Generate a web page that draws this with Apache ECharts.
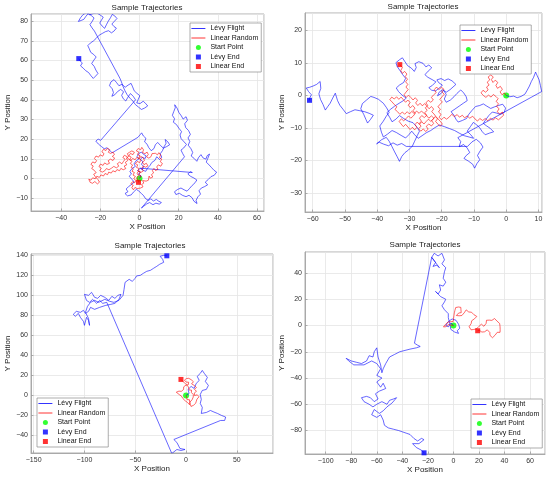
<!DOCTYPE html>
<html>
<head>
<meta charset="utf-8">
<script src="https://cdn.jsdelivr.net/npm/echarts@6/dist/echarts.min.js"></script>
<style>
  html, body { margin: 0; padding: 0; background: #fff; }
  #chart { width: 550px; height: 480px; }
</style>
</head>
<body>
<div id="chart"></div>
<script>
// 起点 (four panels share it)
const startPoint = [0, 0];

// 左上
const levy1 = [[0,0],[0.8,1.3],[-0.6,2.1],[0.4,3.2],[-1,4],[0.3,5.1],[1.6,4.6],[2.1,6.1],[1,7.2],[1.8,8.5],[0.5,9.6],[1.4,10.8],[2.9,10.1],[3.4,11.5],[2,12.3],[1,13.4],[-0.4,12.6],[-1.2,11.1],[-0.3,9.9],[-1.7,9],[-2.8,7.4],[-2.1,6.1],[-3.6,5.2],[-4.9,3.6],[-4.1,2.2],[-5.3,1.1],[-3.8,-0.5],[-2.7,-1.9],[-4.1,-3.1],[-5.6,-4.2],[-6.8,-5.4],[-5.9,-6.8],[-7.4,-7.7],[-6.1,-8.9],[-4.2,-8.4],[-3.1,-7],[-1.6,-5.6],[-0.4,-6.4],[0.9,-7.6],[2.2,-8.9],[3.1,-10.3],[4.6,-11.2],[5.8,-10.4],[7.1,-11.5],[8.6,-10.7],[9.8,-11.6],[11.2,-12.3],[10.1,-13.1],[8.4,-12.6],[6.9,-13.4],[5.2,-12.3],[3.7,-13],[2.1,-14.2],[1,-15.1],[0,-16],
  [23,11],[22.1,12.6],[21.2,14.4],[22.6,15.5],[24,17.3],[22.8,18.6],[21.3,20.2],[20.7,22.1],[21.5,23.8],[20.1,25.6],[18.9,27.4],[17.3,28.6],[17.9,30.4],[16.8,32.1],[17.5,34],[18.3,36],[18,37.5],[19.2,35.8],[20.1,33.6],[21.4,31.8],[22.3,30.2],[23.8,31.4],[24.5,29.6],[23.1,27.8],[23.6,25.9],[25.1,24.3],[26,22.4],[24.8,20.6],[25.7,18.8],[24.9,16.9],[26.3,15.1],[27.2,13.2],[26.4,11.4],[28,10.1],[29.3,8.7],[30.1,10.5],[31.4,12.1],[32.5,10.4],[33.9,9.8],[34.6,11.6],[35.8,12.4],[34.9,10.2],[34.1,8.3],[35.6,6.8],[36.9,5.4],[38.1,4.1],[39.4,3.2],[38.2,1.6],[36.5,0.9],[35.1,-0.6],[33.6,-1.9],[34.8,-3.3],[33.2,-4.2],[31.6,-4.9],[30.4,-6.3],[31.2,-8],[29.8,-9.4],[28.9,-11.2],[29.4,-12.8],[27.8,-11.6],[26.9,-9.9],[25.3,-8.6],[23.8,-9.3],[22.1,-8.7],[20.4,-7.6],[18.6,-8.2],[17.9,-6.8],[19.5,-5.6],[21.2,-4.9],[22.8,-5.8],[24.3,-6.5],[25.6,-5.1],[26.9,-3.6],[28.4,-2.2],[29.3,-0.8],[27.8,0.2],[26.2,1],[24.7,2.2],[25.9,3.4],[27,3],
  [0.5,5.2],[1.9,4.1],[3.2,3.6],[4.1,5.2],[5.4,6.6],[6.3,8.1],[7.9,9.2],[8.8,11],[10.3,9.6],[11.4,10.8],[10.6,12.5],[11.8,14.2],[12.5,16],[13.6,17.9],[13.1,19.8],[14.5,18.6],[15.4,17.1],[13.9,16.2],[12.2,15.4],[10.7,16.8],[9.3,18.3],[8.1,17.1],[7.4,15.2],[6,14.1],[4.7,15.7],[3.9,17.4],[2.6,18.6],[3.3,20.4],[2,21.6],[1.1,23.2],[0.2,22.1],[-0.8,20.9],
  [-14,13],[-15.2,14.3],[-16.5,15.6],[-18,15.1],[-19.4,16.2],[-21,17.5],[-22.3,19],[-21.1,20],[-19.8,19.4],
  [-2,40],[-3.2,41.8],[-4.6,43.2],[-5.8,41.5],[-7,39.4],[-8.3,40.6],[-9.1,42.3],[-8.1,44.1],[-9.6,45.3],[-11.2,44.2],[-12.6,42.6],[-14.1,41.8],[-13.3,43.7],[-13.9,45.6],[-15.3,47.2],[-14.6,49.1],[-13,50.3],[-11.8,48.9],[-10.5,47.2],[-8.9,47.9],[-7.3,46.4],[-5.8,47.5],[-4.3,48.4],[-3.5,46.6],[-2.7,44.6],[-1.3,43.3],[0.2,42.1],[-0.6,40.3],[-1.4,38.4],[0.3,38.1],[1.9,39.3],[3.1,38.2],[4.2,36.9],[2.6,35.8],[1,35.1],[-0.5,36.3],[-2.1,37.6],[-3.4,39.4],[-4.8,40.8],[-6.3,42.6],[-7.4,44.6],[-8.4,46.8],[-9.2,49.1],[-10,51],
  [-23,75],[-24.2,76.6],[-25.3,78.3],[-24.1,80],[-23.2,81.7],[-24.6,82.9],[-26.1,84],[-27.3,82.6],[-28.4,81],[-29.8,80.4],[-31.2,79.9],[-30.1,81.8],[-28.8,83.4],[-27.2,84.3],[-25.4,83.3],[-23.6,83.9],[-21.7,84.2],[-20.1,83.2],[-18.5,82.1],[-19.4,80.6],[-20.3,79.1],[-19.1,77.6],[-17.8,76.4],[-16.9,78.2],[-15.9,80.1],[-14.8,81.8],[-13.9,83.5],[-12.6,82.7],[-11.5,81.4],[-12.8,80],[-14.1,78.6],[-13,77.3],[-11.8,76.5],[-12.9,75.1],[-14.3,74.1],[-15.8,75.2],[-17.4,74.7],[-19,73.8],[-20.6,72.9],[-22.1,71.3],[-23.5,70],[-25.1,68.9],[-26.4,67.6],[-25.6,65.9],[-24.9,64.2],[-23.4,63.1],[-22.1,61.8],[-23.3,60.2],[-24.4,58.5],[-23.1,57],[-22.3,55.2],[-21.2,53.4],[-22.4,52.1],[-23.6,50.9],[-24.8,52.3],[-26,53.9],[-27.4,54.8],[-28.7,56.1],[-30.1,57.3],[-29.2,58.8],[-30.4,59.9],[-31,61]];
const walk1 = [[0,0],[0.8,1.2],[-0.3,2],[0.5,3.1],[-0.8,3.8],[-0.2,5],[-1.5,5.6],[-0.9,6.9],[-2.1,7.5],[-1.2,8.6],[0.1,8.1],[0.8,9.4],[-0.4,10.3],[0.3,11.5],[-1,12.2],[-0.3,13.4],[-1.6,14],[-0.7,15.2],[0.6,14.6],[1.2,15.8],[2.1,14.5],[1.5,13.2],[2.8,12.6],[3.9,13.4],[4.5,12.1],[3.6,11],[4.8,10.3],[5.9,11.1],[6.4,12.6],[7.3,11.6],[8.1,12.8],[9.2,12],[9.9,13.1],[10.8,11.9],[10.2,10.6],[11.4,9.8],[10.6,8.5],[11.7,7.6],[10.9,6.2],[9.6,6.9],[8.8,5.8],[9.5,4.6],[8.2,4],[7.4,5.1],[6.6,4],[7.2,2.8],[6.1,1.9],[6.8,0.7],[5.6,0.1],[4.9,1.2],[4,0.3],[4.6,-0.9],[3.4,-1.4],[2.7,-0.4],[1.6,-1.1],[2.2,-2.4],[1.1,-3.1],[1.8,-4.3],[0.6,-4.9],[-0.4,-4],[-1.2,-5.2],[-2.3,-4.6],[-3.1,-5.8],[-3.9,-4.7],[-3.2,-3.5],[-4.4,-2.8],[-3.6,-1.7],[-2.4,-2.2],[-1.8,-1],[-2.9,-0.2],[-2.1,1],[-3.3,1.7],[-2.6,3],[-3.8,3.6],[-3.1,4.9],[-4.3,5.6],[-3.5,6.8],[-4.7,7.6],[-3.8,8.7],[-5,9.6],[-4.2,10.8],[-5.4,11.5],[-4.6,12.7],[-3.3,12.1],[-2.6,13.3],[-3.9,14],[-5.1,13.3],[-6.2,12.6],
  [-5.5,11.2],[-6.7,10.4],[-6,9.1],[-7.2,8.2],[-6.5,6.9],[-7.8,6.3],[-7,5],[-8.3,4.4],[-9.5,5.1],[-10.2,3.9],[-11.5,4.5],[-12.3,3.3],[-13.6,3.9],[-14.4,2.7],[-15.7,3.2],[-16.3,1.9],[-17.6,2.5],[-18.4,1.2],[-19.7,1.8],[-20.5,0.5],[-21.8,1.1],[-22.6,-0.2],[-23.9,0.3],[-24.8,-0.9],[-25.9,-0.4],[-25.2,-2],[-24,-2.5],[-22.8,-1.6],[-21.5,-2.8],[-20.4,-1.9],
  [-21.2,-0.6],[-22.5,0.8],[-23.4,2.1],[-22.1,2.9],[-23.2,4.2],[-24.4,5],[-23.6,6.3],[-24.8,7.1],[-23.9,8.4],[-22.7,7.8],[-21.9,9],[-23,10.1],[-22.2,11.4],[-20.9,10.8],[-20.1,12],[-18.8,11.3],[-18.1,12.6],[-19.2,13.5],[-18.4,14.8],[-17.1,14.2],[-16.4,15.3],[-15.2,14.6],[-15.9,13.3],[-14.7,12.7],[-13.5,13.4],[-12.8,12.1],[-13.9,11.2],[-12.7,10.4],[-13.5,9.1],[-14.8,9.8],[-16,9],[-15.3,7.7],[-16.6,7.1],[-17.8,7.9],[-18.6,6.6],[-19.9,7.3],[-20.7,6],[-19.5,5.2],[-20.3,3.9],[-19,3.2],[-17.7,3.9],[-16.9,5],[-15.6,4.4],[-14.3,5.2],[-13.1,6.1],[-11.8,5.4],[-10.6,6.2],[-11.3,7.5],[-10.1,8.3],[-9,7.4],[-8.2,8.6],[-7.3,9.8],[-8.5,10.6],[-7.7,11.8],[-6.4,11.1],
  [-5.6,9.8],[-4.3,9.1],[-3.5,10.2],[-2.2,9.5],[-1.4,10.7],[-0.1,10],[0.7,11.2],[1.9,10.4],[2.6,9.1],[1.5,8.3],[2.3,7],[3.5,7.7],[4.3,6.4],[3.1,5.7],[1.9,6.3],[1.2,5],[2,3.8],[0.8,3.1],[-0.4,3.8],[-1.2,2.6],[-0.5,1.4],[-1.4,0.2],[-0.6,-1],[-0.5,-2]];
const levyEnd1 = [-31, 61];
const walkEnd1 = [-0.5, -2];

// 右上
const levy2 = [[0,0],[1.1,-0.4],[2.3,-0.2],[3.4,-0.7],[4.6,-0.3],[5.8,0.4],[6.5,1.6],[7.2,2.9],[7.8,4.3],[8.5,5.6],[9.1,7.2],[9.6,6.1],[10.2,4.8],[10.6,3.1],[11,1.2],
  [-15,-13],[-14.1,-14.2],[-14.6,-15.8],[-13.2,-15.1],[-12.1,-16.2],[-11.3,-17.6],[-12.4,-18.5],[-13.1,-19.4],[-11.6,-20.3],[-10.4,-21.2],[-9.8,-22.4],[-9.1,-21],[-8.2,-19.8],[-8.9,-18.5],[-8.1,-17.1],[-7.2,-15.9],[-8,-14.6],[-9.3,-13.5],[-10.6,-14.3],[-12,-15.7],
  [-31,-15.7],[-32.4,-14.8],[-33.8,-15.3],[-35.1,-14.6],[-36.5,-15.5],[-38,-15],[-39.4,-14.4],[-40.2,-14.9],[-38.6,-13.6],[-37.2,-12.9],[-36.3,-14.1],[-35.4,-15.8],[-34.6,-17.4],[-33.8,-18.9],[-33.1,-20.3],[-32.4,-18.8],[-31.4,-17.6],[-30.3,-16.8],[-29.1,-15.6],[-28.4,-14.1],[-27.6,-12.4],[-26.9,-11],[-27.8,-9.6],[-28.9,-8.4],[-30.4,-7.9],[-31.8,-7.1],[-33.1,-6.2],[-34.2,-7.3],[-35.4,-8.1],[-36.1,-6.8],[-37,-5.3],[-35.8,-4.2],[-34.6,-3.3],[-33.2,-2.4],[-31.9,-1.6],[-31,-0.8],[-32.3,0.1],[-33.4,1.2],[-34.1,2.3],[-33.1,3.2],[-31.8,4],[-31.2,5.3],[-32.1,6.4],[-32.9,7.6],[-33.8,8.9],[-34.2,10.1],[-33.1,11],[-32.2,11.6],[-31.4,10.4],[-30.6,9.2],[-29.4,8.4],[-28.5,7.4],[-27.9,8.6],[-28.3,9.8],[-27.1,10.4],[-25.8,9.9],[-24.9,8.8],[-24,9.4],[-23.1,8.5],[-24.2,7.5],[-25.2,6.4],[-24.3,5.6],[-23,4.9],[-21.8,4.2],[-22.9,3.1],[-24,2.4],[-23.1,1.6],[-21.9,1.4],[-20.7,2.3],[-19.8,3.2],[-20.9,3.9],[-21.5,4.8],[-20.2,5.2],[-19.1,4.6],[-18,5.1],[-16.8,4.5],[-15.6,3.4],[-16.5,2.6],[-17.4,1.8],[-18.6,1],[-19.7,1.8],[-20.8,1],[-21.3,-0.1],[-20.2,0.6],[-19.4,1.6],[-18.6,0.3],[-19.2,-1.1],[-18.6,-2.1],[-17.3,-1.4],[-16.2,-0.4],[-15.3,0.6],[-14.1,1.7],[-13.2,0.8],[-12.4,-0.4],[-12.1,-1.6],[-13.3,-2.4],[-14.6,-3.3],[-15.9,-4.2],[-17.1,-5],[-16.2,-6.1],[-15.6,-7.3],[-14.9,-8.2],[-13.6,-7.7],[-12.3,-7.1],[-11.6,-5.8],[-10.6,-4.6],[-9.5,-3.4],[-8.2,-3.1],[-7.1,-2.6],[-6,-3.3],[-4.8,-4],[-3.6,-3.5],[-2.4,-3.1],[-1.1,-2.7],[-0.2,-3.9],[-0.6,-5.2],[-1.8,-5.8],[-3.1,-5.4],[-4.3,-5.1],[-5.4,-6.2],[-6.3,-7.4],[-7.1,-8.6],[-6.2,-9.3],[-5,-10.1],[-3.9,-11.2],[-5.2,-11.6],[-6.5,-12.1],[-7.4,-11.2],[-8.2,-10],[-9.1,-9.1],[-10.2,-8.3],[-11.1,-9.6],[-12.1,-11],[-11,-12.1],[-10.1,-13.2],[-11.5,-12.8],[-13,-12.4],[-14.4,-11.7],[-16,-10.8],[-17.6,-10.2],[-19.2,-9.6],[-20.7,-9.1],[-22.1,-9.9],[-23.4,-10.8],[-24.8,-11.5],[-26.1,-12.4],[-27.3,-13.2],[-28.4,-12.1],[-29.3,-11],[-30.2,-12.1],[-31.2,-13.1],[-32.6,-12.3],[-34.1,-11.4],[-35.4,-10.8],[-36.8,-11.9],[-38.1,-12.8],[-38.7,-11.3],[-39.2,-9.4],[-38.1,-7.9],[-37.2,-6.4],[-36.3,-5.2],[-37.1,-3.8],[-38.1,-2.4],[-39.6,-1.2],[-41,-0.6],[-42,-0.3],[-43.3,-1.4],[-44.6,-2.5],[-45.1,-4.1],[-44.2,-5.8],[-43.5,-7.4],[-43,-8.5],[-42.1,-7.4],[-41.2,-6.1],[-42.5,-5.5],[-43.9,-5],[-45.4,-4.7],[-46.9,-4.4],[-48.3,-5],[-49.6,-5.6],[-50.5,-4.4],[-51.6,-3],[-52.3,-1.6],[-53,0.7],[-53.8,-0.8],[-54.6,-2.4],[-55.4,-3.5],[-56.1,-4.5],[-56.8,-2.8],[-57.6,-1.2],[-58.1,0.5],[-57.5,2.2],[-57.7,4.3],[-58.8,3.4],[-59.9,2.9],[-61,2.5],[-62,2.3],[-61.3,1.2],[-60.4,0.2],[-60.9,-0.7],[-61,-1.5]];
const walk2 = [[0,0],[-0.6,0.8],[-1.3,0.2],[-1.9,1.1],[-1.2,1.9],[-1.8,2.8],[-2.7,2.2],[-3.2,3.1],[-2.6,4],[-3.4,4.7],[-4.1,4],[-4.6,4.9],[-4,5.7],[-4.8,6.3],[-5.6,5.7],[-5.1,4.8],[-5.9,4.1],[-5.3,3.2],[-6.1,2.6],[-5.6,1.7],[-6.4,1],[-7.2,1.6],[-7.8,0.8],[-7.1,0],[-6.3,-0.6],[-5.5,0.1],[-4.7,-0.5],[-4,0.3],[-3.2,-0.3],[-2.5,-1],[-3.1,-1.8],[-2.4,-2.6],[-3,-3.4],[-2.2,-4.1],[-2.8,-5],[-2,-5.7],[-1.2,-5.1],[-0.8,-6.1],[-1.6,-6.8],[-2.4,-7.5],[-3.3,-6.9],[-4.1,-7.6],[-4.9,-7],[-5.7,-7.8],[-6.5,-7.1],[-7.3,-7.7],[-8.2,-7.1],[-8.9,-7.9],[-9.7,-7.2],[-10.4,-6.4],[-11.3,-7],[-12.1,-6.3],[-12.9,-6.9],[-13.6,-6.1],[-14.5,-6.7],[-15.2,-5.9],[-16.1,-6.5],[-16.9,-5.8],[-17.6,-6.6],[-18.5,-7.3],[-19.3,-6.7],[-20.1,-7.5],[-20.8,-6.7],[-20.2,-5.8],[-21,-5.1],[-20.4,-4.2],[-21.2,-3.5],[-20.5,-2.7],[-19.8,-2],[-20.6,-1.2],[-19.9,-0.4],[-19.2,0.4],[-20,1.1],[-19.3,1.9],[-20.1,2.5],[-20.9,1.8],[-21.6,2.6],[-22.3,1.8],[-21.7,0.9],[-22.5,0.2],[-23.2,-0.6],[-22.6,-1.4],[-23.4,-2.1],[-24.2,-1.5],[-24.9,-2.3],[-24.3,-3.1],[-25.1,-3.8],[-24.5,-4.6],[-25.3,-5.3],[-24.6,-6.1],[-25.4,-6.8],[-26.2,-6.2],[-26.9,-7],[-26.3,-7.9],[-27,-8.7],[-26.4,-9.5],[-27.2,-10.2],[-26.5,-11],[-25.7,-10.3],[-25,-11.1],[-24.2,-10.4],[-24.8,-9.5],[-24,-8.8],[-23.2,-9.4],[-22.5,-8.6],[-23.1,-7.8],[-22.4,-7],[-23.2,-6.3],[-24,-7],[-24.7,-6.2],[-25.5,-5.5],[-26.3,-4.8],[-27,-5.5],[-27.8,-4.8],[-28.5,-5.6],[-29.3,-4.9],[-30,-5.7],[-30.7,-5],[-31.5,-5.8],[-32.2,-5.1],[-33,-5.8],[-33.7,-5],[-34.5,-4.3],[-33.9,-3.5],[-34.7,-2.8],[-35.4,-2],[-36.1,-1.3],[-35.5,-0.5],[-34.7,-1.1],[-34,-0.4],[-33.3,-1.2],[-32.6,-0.5],[-31.9,-1.3],[-31.2,-2.1],[-30.5,-1.4],[-29.8,-2.2],[-30.4,-3],[-29.7,-3.8],[-29,-3.1],[-28.3,-3.9],[-28.9,-4.7],[-28.2,-5.5],[-28.8,-6.3],[-29.6,-7],[-30.3,-6.3],[-31,-7.1],[-31.8,-7.8],[-32.5,-7.2],[-33.2,-8],[-32.6,-8.8],[-31.9,-9.6],[-31.2,-8.9],[-30.5,-9.7],[-29.8,-10.5],[-29.1,-9.8],[-28.4,-10.6],[-27.7,-9.8],[-28.3,-9],[-27.6,-8.2],[-26.9,-8.9],[-26.2,-8.1],[-25.5,-8.8],[-24.8,-8],[-24.1,-7.3],[-23.4,-8],[-22.7,-7.3],[-22,-6.5],[-21.3,-7.2],[-21.9,-8],[-21.2,-8.8],[-20.5,-9.5],[-19.8,-8.8],[-20.4,-8],
  [-21.1,-7.3],[-21.8,-6.5],[-22.4,-5.7],[-23.1,-5],[-22.5,-4.2],[-23.2,-3.4],[-23.9,-4.1],[-24.6,-3.3],[-25.3,-2.5],[-26,-3.2],[-26.7,-2.4],[-27.4,-3.1],[-28.1,-2.3],[-27.5,-1.5],[-28.2,-0.7],[-28.9,-1.4],[-29.6,-0.6],[-30.3,0.1],[-31,-0.6],[-31.7,0.2],[-31.1,1],[-30.4,1.8],[-31.1,2.6],[-30.5,3.4],[-31.2,4.2],[-30.6,5],[-31.3,5.8],[-30.8,6.6],[-31.5,7.4],[-32.2,6.8],[-32.7,7.7],[-32.2,8.6],[-33,9.5]];
const levyEnd2 = [-61, -1.5];
const walkEnd2 = [-33, 9.5];

// 左下
const levy3 = [[0,0],[3,2],[2,6],[5,9],[8,7],[10,12],[13,15],[11,19],[14,22],[16,25],[18,22],[21,18],[19,14],[22,10],[20,6],[16,5],[14,1],[15,-4],[14,-8],[16,-12],[15,-18],[20,-17],[24,-15],[27.5,-16.6],[31,-18],[35,-20],[39,-21.6],[38,-25],[37.4,-26.5],[34,-25],
  [-12,-44],[-9,-47],[-6,-53],[-1,-54],[-5,-55],[-9,-54],[-14,-58],
  [-78,93],[-82,92],[-85,95],[-88,92],[-92,96],[-95,93],[-98,95],[-100,101],[-96,100],[-93,103],[-90,98],[-87,97],[-84,100],[-80,98],[-76,95],[-73,99],[-70,97],[-67,100],[-64,101],[-66,96],[-70,92],[-74,91],[-79,90],[-85,88],[-90,86],[-94,88],[-96,84],[-99,82],[-101,85],[-104,83],[-108,84],[-111,81],[-109,79],[-106,82],[-104,78],[-101,74],[-100,70],[-98,78],[-96,75],[-95,70],[-96,77],[-99,83],[-97,89],[-94,93],[-90,95],[-86,93],[-80,96],[-75,94],[-71,93],[-66,95],[-62,100],[-61,106],[-60,113],[-56,116],[-53,114],[-50,117],[-48.7,119.4],[-45,120],[-42,122],[-38.7,124],[-35,125],[-32,127],[-28.8,129],[-26,131],[-22,133],[-20.5,134],[-23,136],[-25.5,139],[-22,140],[-18.9,139.5]];
const walk3 = [[0,0],[1.2,-0.8],[0.6,-2],[1.8,-2.9],[1.1,-4.2],[2.3,-5],[3.4,-4.3],[4.1,-5.5],[3.6,-6.8],[4.8,-7.6],[4.2,-8.9],[5.4,-9.7],[4.9,-11],[5.8,-12],[6.7,-11],[7.4,-9.8],[8.3,-8.6],[9.5,-7.8],[8.9,-6.5],[10.1,-5.8],[9.6,-4.5],[10.8,-3.6],[11.9,-2.7],[12.8,-1.4],[12.2,-0.2],[11.1,0.6],[10.2,-0.3],[9.3,0.8],[8.4,-0.1],[9,1.3],[8.1,2.4],[9.2,3.3],[10.3,4.2],[9.4,5.3],[8.3,6],[9.1,7.2],[10.2,8],[9.4,9.3],[8.1,10],[7.1,9.1],[6.3,10.3],[5.5,11.6],[6.6,12.4],[7.3,13.7],[6.2,14.6],[5.1,15.7],[3.9,16.5],[2.7,17.1],[1.6,16.2],[0.4,16.9],[-0.8,16.5],[-1.6,15.3],[-0.9,14.1],[0.2,13.3],[1.4,14.1],[2.6,13.2],[3.1,11.8],[2.2,10.7],[1.1,9.6],[0,10.4],[-1.2,9.8],[-2.3,8.6],[-3.1,7.3],[-2.4,6],[-3.5,5],[-4.6,4.1],[-5.8,3.6],[-7,4.3],[-8.3,3.7],[-9.6,3.2],[-10.4,2.6],[-9.2,2],[-7.9,1.6],[-6.7,0.9],[-5.4,0.3],[-4.5,-0.7],[-3.7,-1.9],[-3,-3.2],[-1.8,-4],[-0.9,-5.3],[0.3,-6.1],[1.4,-7],[2.6,-8.2],[3.5,-9.3],[4.4,-8],[3.9,-6.6],[4.8,-5.3],[5.9,-4.4],[6.4,-3],[7.1,-1.6],[6.3,-0.4],[7.2,0.8],[6.1,1.7],[5.3,2.9],[6.1,4],[5.4,5.3],[4.2,6.1],[3,5.4],[2.1,4.2],[2.6,5.8],[3.3,7.2],[2.4,8.4],[1.2,9.1],[0.6,10.6],[-0.4,11.8],[-1.5,12.6],[-2.4,13.8],[-3.6,14.4],[-4.4,15.3],[-5,16]];
const levyEnd3 = [-18.9, 139.5];
const walkEnd3 = [-5, 16];

// 右下
const levy4 = [[0,0],[-2,2],[-4,-1],[-6,0],[-4,3],[-1,5],[2,4],[4,1],[5,-2],[3,-4],[4,-6],[1,-5],[-2,-3],[-3,2],[-4,6],[-4,9],[-7,12],[-9,15],[-7,18],[-6,20],[-10,22],[-14,26],[-12,24],[-10,27],[-11,31],[-8,30],[-6,33],[-8,36],[-7,41],[-6,44],[-9,47],[-7,50],[-9,55],[-12,53],[-15,55],[-17,52],[-14,48],[-16,45],[-13,46],[-11,44],[-17,52],
  [-30.5,-13.5],[-28,-15],[-26,-16],[-29,-17],[-34,-18],[-42,-20],[-46,-22],[-50,-24],[-53,-29],[-55,-33],[-56,-36],[-57,-30],[-59,-24],[-60,-17],[-62,-20],[-63,-24],[-66,-23],[-68,-27],[-72,-29],[-76,-28],[-80,-27],[-84,-25],[-82,-27],[-78,-30],[-70,-30],[-64,-27],[-60,-29],[-57,-33],[-60,-38],[-56,-40],[-60,-43],[-57,-47],[-55,-44],[-53,-48],[-58,-50],[-61,-52],[-59,-56],[-62,-58],[-65,-55],[-68,-54],[-72,-55],[-70,-58],[-66,-60],[-63,-62],[-60,-60],[-56,-58],[-52,-60],[-50,-57],[-47,-56],[-44.5,-55],[-48,-59],[-52,-62],[-55,-65],[-58,-67],[-62,-64],[-64,-68],[-60,-70],[-57,-68],[-55,-72],[-54,-76],[-51,-78],[-47,-79],[-43,-80],[-40,-81],[-37,-82],[-34,-83],[-31,-86],[-28,-88],[-25,-86],[-23,-87],[-27,-90],[-32,-90],[-29,-93],[-25,-95],[-23,-97]];
const walk4 = [[0,0],[-1,0.8],[-2.1,0.3],[-2.9,1.2],[-4,0.7],[-4.8,-0.3],[-5.9,-0.9],[-6.9,-0.4],[-7.8,-1.1],[-7.1,0.1],[-6.2,0.9],[-5.1,1.6],[-4.2,2.6],[-3.1,2.1],[-2,2.9],[-1.1,3.8],[-0.2,3.1],[0.6,4.2],[0.1,5.4],[1,6.3],[0.4,7.5],[1.3,8.4],[0.7,9.6],[1.8,10.4],[1.2,11.6],[2.3,12.5],[1.8,13.7],[2.9,14.6],[4,14.1],[5.1,14.9],[5.8,13.8],[4.9,12.8],[5.9,11.9],[5.1,10.8],[6.1,9.8],[5.2,8.9],[4.1,9.5],[3.1,8.7],[2.3,7.6],[3.4,6.9],[4.5,7.4],[5.6,6.8],[6.6,7.6],[7.5,8.7],[8.4,9.6],[9.1,10.8],[10,11.9],[11.1,11.3],[12,10.3],[13.1,9.5],[14.2,10.1],[15.3,9.4],[16.1,8.2],[17.2,7.6],[18.3,6.9],[17.6,5.7],[16.5,5.1],[15.4,4.3],[14.3,3.6],[13.2,2.7],[13.9,1.5],[13.1,0.3],[12.3,-0.9],[12.9,-2.1],[13.8,-3.3],[14.9,-3.9],[15.9,-3],[16.8,-2],[17.9,-2.7],[18.9,-1.8],[19.8,-0.8],[20.9,0.1],[21.9,1],[22.8,0.1],[23.9,-0.6],[24.8,0.4],[25.6,1.6],[25.1,2.8],[25.9,4],[27,4.8],[28.1,4.1],[29.1,3.1],[30.1,3.9],[31.2,4.6],[32.2,5.3],[33.3,4.5],[34.1,3.4],[35.1,2.4],[36.2,1.5],[35.6,0.3],[36.5,-0.8],[37.3,-1.9],[36.6,-3.1],[37.4,-4.2],[36.5,-5.2],[35.4,-4.6],[34.3,-5.2],[33.5,-6.3],[32.6,-7.4],[31.7,-8.5],[30.6,-9.3],[29.5,-8.6],[28.6,-7.5],[29.4,-6.4],[28.5,-5.3],[27.5,-4.2],[26.5,-3.3],[25.4,-3.9],[24.4,-4.8],[23.4,-5.7],[22.3,-5],[21.2,-4.3],[20.1,-3.5],[19,-4]];
const levyEnd4 = [-23, -97];
const walkEnd4 = [19, -4];

const legendNames = ['Lévy Flight', 'Linear Random', 'Start Point', 'Lévy End', 'Linear End'];

// 每个子图的位置和坐标范围 (axis equal, like the original)
const panels = [
  { grid: { left: 31, top: 14, width: 233, height: 197 }, x: [-55.4, 63.6], y: [-16.6, 83.7], xi: 20, yi: 10,
    title: { left: 147, top: 4 }, legend: { left: 190, top: 23 }, xGap: 10, yGap: 15,
    levy: levy1, walk: walk1, levyEnd: levyEnd1, walkEnd: walkEnd1 },
  { grid: { left: 305, top: 13, width: 237, height: 199 }, x: [-62.4, 11.1], y: [-35.9, 25.4], xi: 10, yi: 10,
    title: { left: 423, top: 2.5 }, legend: { left: 460, top: 25 }, xGap: 8, yGap: 15,
    levy: levy2, walk: walk2, levyEnd: levyEnd2, walkEnd: walkEnd2 },
  { grid: { left: 31, top: 254, width: 242, height: 199 }, x: [-152.6, 85.6], y: [-57.5, 141.3], xi: 50, yi: 20,
    title: { left: 150, top: 242 }, legend: { left: 37, top: 398 }, xGap: 10, yGap: 15,
    levy: levy3, walk: walk3, levyEnd: levyEnd3, walkEnd: walkEnd3 },
  { grid: { left: 305, top: 252, width: 240, height: 202 }, x: [-116.2, 71.7], y: [-97.9, 56], xi: 20, yi: 20,
    title: { left: 425, top: 241 }, legend: { left: 471, top: 399 }, xGap: 11, yGap: 16,
    levy: levy4, walk: walk4, levyEnd: levyEnd4, walkEnd: walkEnd4 }
];

// 图例: 线条只画线, 端点画成小方块
const squareIcon = 'path://M0,0H10V10H0Z';
const lineLegendItem = (name) => ({ name: name, itemStyle: { color: 'rgba(0,0,0,0)', borderWidth: 0 }, lineStyle: { width: 0.8 } });
const legendData = [
  lineLegendItem(legendNames[0]),
  lineLegendItem(legendNames[1]),
  { name: legendNames[2], icon: 'circle' },
  { name: legendNames[3], icon: squareIcon },
  { name: legendNames[4], icon: squareIcon }
];

const minus = (v) => (v < 0 ? '\u2212' + Math.abs(v) : String(v));
const axisColor = '#9a9a9a';
const labelStyle = { fontSize: 7, color: '#333', fontFamily: 'Liberation Sans', formatter: minus, showMinLabel: false, showMaxLabel: false };
const nameStyle = { fontSize: 8, color: '#222', fontFamily: 'Liberation Sans' };

let chart = echarts.init(document.getElementById('chart'), null, { renderer: 'canvas' });
let option = {
  animation: false,
  backgroundColor: '#fff',
  title: panels.map(p => ({
    text: 'Sample Trajectories',
    left: p.title.left,
    top: p.title.top,
    textAlign: 'center',
    padding: 0,
    textStyle: { fontSize: 8, fontWeight: 'normal', color: '#222', fontFamily: 'Liberation Sans' }
  })),
  legend: panels.map(p => ({
    data: legendData,
    orient: 'vertical',
    left: p.legend.left,
    top: p.legend.top,
    backgroundColor: '#fff',
    borderColor: '#8a8a8a',
    borderWidth: 0.7,
    borderRadius: 0,
    padding: [2, 3, 2, 1],
    itemWidth: 14,
    itemHeight: 5,
    itemGap: 2.5,
    textStyle: { fontSize: 7, color: '#111', fontFamily: 'Liberation Sans' }
  })),
  grid: panels.map(p => Object.assign({ show: true, borderColor: axisColor, borderWidth: 0.8, backgroundColor: '#fff', containLabel: false }, p.grid)),
  xAxis: panels.map((p, i) => ({
    type: 'value', gridIndex: i, min: p.x[0], max: p.x[1],
    minInterval: p.xi, maxInterval: p.xi,
    name: 'X Position', nameLocation: 'middle', nameGap: p.xGap, nameTextStyle: nameStyle,
    axisLine: { show: true, onZero: false, lineStyle: { color: axisColor, width: 0.8 } },
    axisTick: { show: true, inside: true, length: 2.5, lineStyle: { color: axisColor, width: 0.8 } },
    splitLine: { show: true, lineStyle: { color: '#e4e4e4', width: 0.8 } },
    axisLabel: Object.assign({ margin: 4 }, labelStyle)
  })),
  yAxis: panels.map((p, i) => ({
    type: 'value', gridIndex: i, min: p.y[0], max: p.y[1],
    minInterval: p.yi, maxInterval: p.yi,
    name: 'Y Position', nameLocation: 'middle', nameGap: p.yGap, nameTextStyle: nameStyle,
    axisLine: { show: true, onZero: false, lineStyle: { color: axisColor, width: 0.8 } },
    axisTick: { show: true, inside: true, length: 2.5, lineStyle: { color: axisColor, width: 0.8 } },
    splitLine: { show: true, lineStyle: { color: '#e4e4e4', width: 0.8 } },
    axisLabel: Object.assign({ margin: 3 }, labelStyle)
  })),
  series: []
};

panels.forEach((p, i) => {
  option.series.push({
    name: 'Lévy Flight', type: 'line', xAxisIndex: i, yAxisIndex: i,
    data: p.levy, symbol: 'none', clip: true,
    lineStyle: { color: '#0000ff', width: 0.6 }, itemStyle: { color: '#0000ff' }
  });
});
panels.forEach((p, i) => {
  option.series.push({
    name: 'Linear Random', type: 'line', xAxisIndex: i, yAxisIndex: i,
    data: p.walk, symbol: 'none', clip: true,
    lineStyle: { color: '#ff0000', width: 0.6 }, itemStyle: { color: '#ff0000' }
  });
});
panels.forEach((p, i) => {
  option.series.push(
    { name: 'Start Point', type: 'scatter', xAxisIndex: i, yAxisIndex: i, data: [startPoint],
      symbol: 'circle', symbolSize: 6, itemStyle: { color: '#00ff00' } },
    { name: 'Lévy End', type: 'scatter', xAxisIndex: i, yAxisIndex: i, data: [p.levyEnd],
      symbol: 'rect', symbolSize: 5, itemStyle: { color: '#0000ff' } },
    { name: 'Linear End', type: 'scatter', xAxisIndex: i, yAxisIndex: i, data: [p.walkEnd],
      symbol: 'rect', symbolSize: 5, itemStyle: { color: '#ff0000' } }
  );
});

chart.setOption(option);
</script>
</body>
</html>
